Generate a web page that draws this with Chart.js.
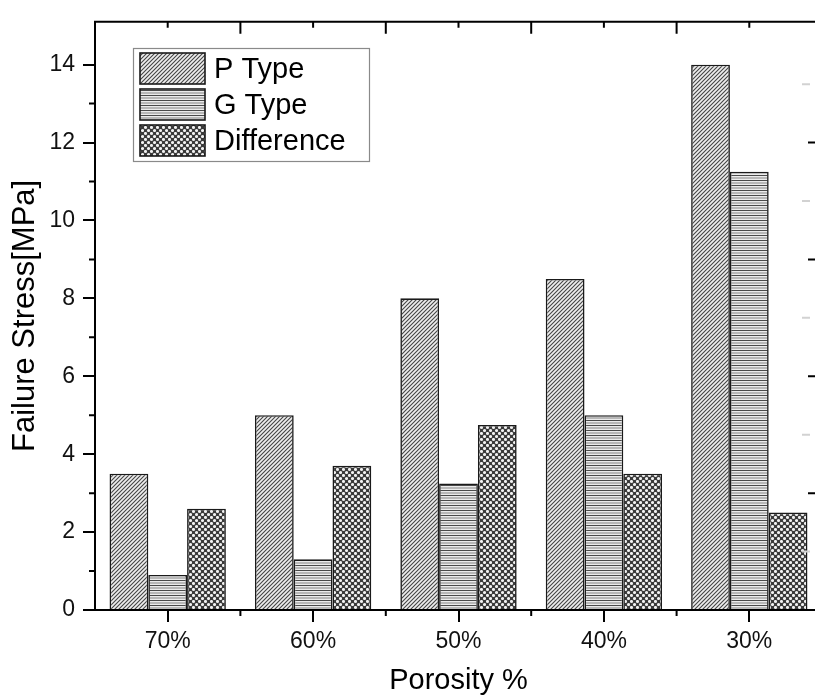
<!DOCTYPE html>
<html>
<head>
<meta charset="utf-8">
<script src="https://cdn.jsdelivr.net/npm/chart.js@4.4.0/dist/chart.umd.min.js"></script>
<style>
  html, body { margin: 0; padding: 0; background: #fff; overflow: hidden; }
  #wrap { position: absolute; left: 0; top: 0; width: 830px; height: 698px; }
</style>
</head>
<body>
<div id="wrap"><canvas id="c" width="830" height="698"></canvas></div>
<script>
// ---- data ----
const categories = ['70%', '60%', '50%', '40%', '30%'];
const pType = [3.5, 5.0, 8.0, 8.5, 14.0];
const gType = [0.9, 1.3, 3.25, 5.0, 11.25];
const difference = [2.6, 3.7, 4.75, 3.5, 2.5];
const seriesLabels = ['P Type', 'G Type', 'Difference'];
const yTicks = [0, 2, 4, 6, 8, 10, 12, 14];
const yMinorTicks = [1, 3, 5, 7, 9, 11, 13];
const rightMajor = [3, 6, 9, 12];
const rightMinor = [1.5, 4.5, 7.5, 10.5, 13.5];
const yMax = 15.1;

const FONT = '"Liberation Sans", Arial, Helvetica, sans-serif';

// ---- patterns ----
function makePattern(kind) {
  const c = document.createElement('canvas');
  const g = c.getContext('2d');
  if (kind === 'diag') {
    c.width = 4; c.height = 4;
    g.fillStyle = '#eeeeee'; g.fillRect(0, 0, 4, 4);
    g.strokeStyle = '#444'; g.lineWidth = 1.1;
    g.beginPath();
    g.moveTo(-1, 5); g.lineTo(5, -1);
    g.moveTo(-1, 1); g.lineTo(1, -1);
    g.moveTo(3, 5); g.lineTo(5, 3);
    g.stroke();
  } else if (kind === 'horiz') {
    c.width = 4; c.height = 5;
    g.fillStyle = '#ececec'; g.fillRect(0, 0, 4, 5);
    g.fillStyle = '#b8b8b8'; g.fillRect(0, 2, 4, 2);
    g.fillStyle = '#4a4a4a'; g.fillRect(0, 0, 4, 1);
  } else {
    c.width = 6; c.height = 6;
    g.fillStyle = '#3a3a3a'; g.fillRect(0, 0, 6, 6);
    g.fillStyle = '#f2f2f2';
    [[1.5, 1.5], [4.5, 4.5]].forEach(([x, y]) => {
      g.beginPath(); g.arc(x, y, 1.55, 0, Math.PI * 2); g.fill();
    });
  }
  return document.getElementById('c').getContext('2d').createPattern(c, 'repeat');
}
const patterns = [makePattern('diag'), makePattern('horiz'), makePattern('cross')];
const seriesData = [pType, gType, difference];

// ---- plugin: frame, extra ticks, legend ----
const decor = {
  id: 'decor',
  afterDraw(chart) {
    const ctx = chart.ctx;
    const a = chart.chartArea;
    const xs = chart.scales.x, ys = chart.scales.y;
    ctx.save();
    ctx.strokeStyle = '#000';
    ctx.lineWidth = 2;
    ctx.beginPath();
    ctx.moveTo(a.left - 1, a.top); ctx.lineTo(a.right + 1, a.top);
    ctx.moveTo(a.right, a.top); ctx.lineTo(a.right, a.bottom);
    ctx.stroke();
    const n = categories.length;
    const half = (xs.getPixelForValue(1) - xs.getPixelForValue(0)) / 2;
    ctx.beginPath();
    for (let i = 0; i < n; i++) {
      const cx = xs.getPixelForValue(i);
      ctx.moveTo(cx, a.top); ctx.lineTo(cx, a.top + 6);
      if (i > 0) {
        const bx = cx - half;
        ctx.moveTo(bx, a.top); ctx.lineTo(bx, a.top + 12);
        ctx.moveTo(bx, a.bottom); ctx.lineTo(bx, a.bottom + 6);
      }
    }
    yMinorTicks.forEach(v => {
      const py = ys.getPixelForValue(v);
      ctx.moveTo(a.left - 6, py); ctx.lineTo(a.left, py);
    });
    rightMajor.forEach(v => {
      const py = ys.getPixelForValue(v);
      ctx.moveTo(a.right - 14, py); ctx.lineTo(a.right, py);
    });
    ctx.stroke();
    ctx.strokeStyle = '#d2d2d2';
    ctx.lineWidth = 2;
    ctx.beginPath();
    rightMinor.forEach(v => {
      const py = ys.getPixelForValue(v);
      ctx.moveTo(a.right - 20, py); ctx.lineTo(a.right - 12, py);
    });
    ctx.stroke();

    // legend
    const lx = 133, ly = 48, lw = 236, lh = 113;
    ctx.fillStyle = '#fff';
    ctx.fillRect(lx, ly, lw, lh);
    ctx.strokeStyle = '#8a8a8a';
    ctx.lineWidth = 1.2;
    ctx.strokeRect(lx + 0.5, ly + 0.5, lw, lh);
    ctx.font = '29px ' + FONT;
    ctx.textBaseline = 'middle';
    ctx.textAlign = 'left';
    chart.data.datasets.forEach((ds, i) => {
      const sy = 53 + i * 36;
      ctx.fillStyle = ds.backgroundColor;
      ctx.fillRect(140, sy, 65, 31);
      ctx.strokeStyle = '#1a1a1a';
      ctx.lineWidth = 1.6;
      ctx.strokeRect(140, sy, 65, 31);
      ctx.fillStyle = '#000';
      ctx.fillText(ds.label, 214, sy + 17);
    });
    ctx.restore();
  }
};

new Chart(document.getElementById('c'), {
  type: 'bar',
  data: {
    labels: categories,
    datasets: seriesLabels.map((lab, i) => ({
      label: lab,
      data: seriesData[i],
      backgroundColor: patterns[i],
      borderColor: '#1a1a1a',
      borderWidth: 1.6,
      borderSkipped: 'bottom',
      categoryPercentage: 0.8,
      barPercentage: 1.0
    }))
  },
  options: {
    responsive: false,
    devicePixelRatio: 1,
    animation: false,
    layout: { padding: { top: 17, right: 8, left: 0, bottom: 0 } },
    plugins: { legend: { display: false }, tooltip: { enabled: false } },
    scales: {
      x: {
        offset: true,
        grid: { display: true, offset: false, drawOnChartArea: false, drawTicks: true, tickLength: 12, color: '#000', lineWidth: 2 },
        border: { display: true, color: '#000', width: 2 },
        ticks: { color: '#111', font: { family: FONT, size: 23 }, padding: 6, maxRotation: 0 },
        title: { display: true, text: 'Porosity %', color: '#000', font: { family: FONT, size: 29 }, padding: { top: 0, bottom: 0 } },
        afterFit(s) { s.height = 88; }
      },
      y: {
        min: 0, max: yMax,
        afterBuildTicks(s) { s.ticks = yTicks.map(v => ({ value: v })); },
        grid: { display: true, drawOnChartArea: false, drawTicks: true, tickLength: 12, color: '#000', lineWidth: 2 },
        border: { display: true, color: '#000', width: 2 },
        ticks: { color: '#111', font: { family: FONT, size: 23 }, padding: 8 },
        title: { display: true, text: 'Failure Stress[MPa]', color: '#000', font: { family: FONT, size: 31 }, padding: { top: 7, bottom: 0 } },
        afterFit(s) { s.width = 95; }
      }
    }
  },
  plugins: [decor]
});
</script>
</body>
</html>
